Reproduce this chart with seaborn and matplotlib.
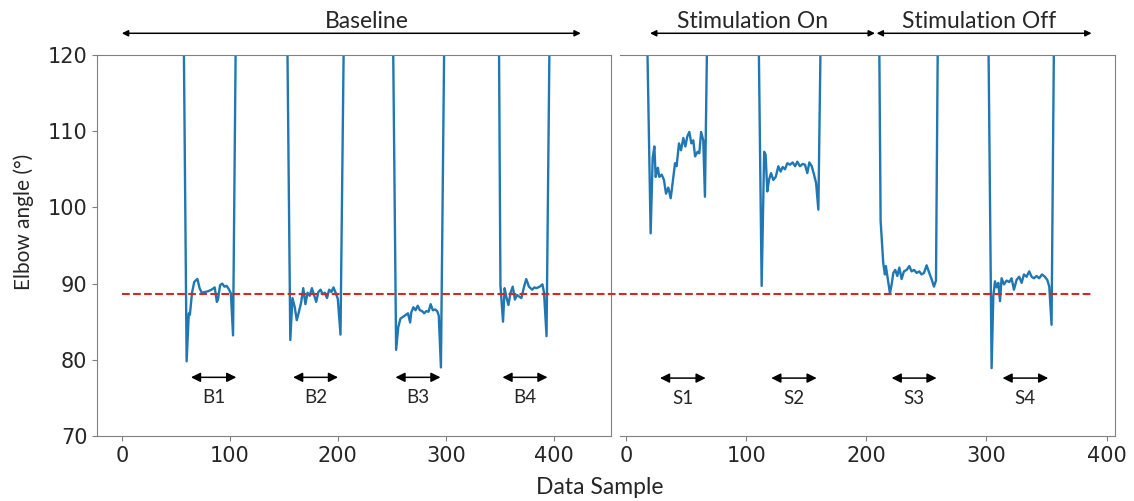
import matplotlib
matplotlib.use("Agg")
import matplotlib.pyplot as plt
from matplotlib.lines import Line2D
import seaborn as sns

# ===== Data =====
# Baseline trials B1..B4 (left panel)
baseline_x = [57, 60, 62, 63, 65, 67, 69, 70, 72, 74, 77, 80, 83, 86, 88, 89, 91, 93, 95, 97, 99, 101, 103, 106,
              153, 156, 158, 160, 162, 164, 166, 168, 170, 172, 174, 176, 178, 180, 182, 184, 186, 188, 190, 192,
              194, 196, 198, 200, 202.5, 206,
              251, 254, 256, 258, 260, 262, 264, 265, 267, 268, 270, 272, 274, 276, 278, 280, 282, 284, 286, 288,
              290, 292, 293.5, 295.5, 299,
              349, 350.6, 353, 354.5, 356, 358, 360, 362, 364, 366, 368, 370, 372.5, 374.5, 377, 380, 382, 384,
              387, 389.5, 391, 393.3, 396.5]
baseline_y = [128, 79.8, 86.1, 85.9, 88.8, 90.2, 90.5, 90.6, 89.4, 88.8, 88.9, 89.0, 89.2, 89.5, 87.6, 87.9, 89.8,
              90.0, 89.6, 89.7, 89.3, 88.7, 83.2, 130,
              126, 82.6, 88.1, 87.0, 85.2, 86.3, 87.5, 89.4, 87.3, 88.8, 88.4, 89.4, 88.5, 87.6, 88.9, 89.2, 88.6,
              88.8, 88.1, 89.2, 88.9, 89.5, 88.8, 88.0, 83.3, 128,
              125, 81.3, 84.3, 85.4, 85.6, 85.8, 86.0, 86.1, 84.9, 86.2, 86.9, 86.5, 87.1, 86.5, 86.4, 86.1, 86.4,
              86.3, 87.3, 86.5, 86.6, 86.4, 85.8, 79.0, 128,
              128, 89.8, 85.0, 89.4, 88.3, 87.2, 88.8, 89.6, 87.9, 88.5, 88.3, 88.1, 89.6, 90.6, 89.6, 89.2, 89.5,
              89.4, 89.6, 89.9, 88.8, 83.1, 128]

# Stimulation trials S1..S4 (right panel)
stim_x = [17, 20.5, 22.2, 23.6, 24.7, 25.5, 26.5, 27.7, 29.7, 31.6, 33.3, 35.2, 37.2, 38.8, 40.8, 42.1, 44.1, 45.8,
          47.7, 49.4, 51.0, 52.7, 54.4, 56, 57.5, 59.6, 61, 62.5, 64.3, 65.7, 68,
          110, 112.9, 115, 116.2, 117.6, 119, 120.7, 122.6, 124.6, 126.8, 128.7, 130.4, 132.3, 134.3, 136.5, 138.7,
          140.7, 142.6, 144.8, 147, 149, 150.9, 152.6, 154.6, 156.5, 158.2, 160.1, 162.5,
          210.5, 211.9, 214.1, 215.5, 216.3, 217.7, 219.7, 221.1, 222.5, 224.1, 225.8, 227.5, 229.4, 231.3, 233.6,
          235.8, 237.7, 239.7, 241.9, 244.1, 246, 248, 250.2, 252.4, 254.3, 256.3, 258, 259.8,
          301.3, 304.3, 305.7, 307.1, 308.5, 309.9, 311.3, 312.6, 314.6, 316.8, 319, 320.9, 322.9, 325.1, 327.3,
          329.3, 331.2, 333.4, 335.6, 337.6, 339.5, 341.7, 343.9, 346.2, 348.6, 350.6, 352.3, 354.2, 356.5]
stim_y = [128, 96.6, 106.5, 108.0, 104.0, 104.6, 105.2, 104.0, 104.3, 103.6, 101.8, 102.6, 101.2, 103.2, 105.8,
          105.4, 108.4, 107.5, 109.1, 108.0, 109.3, 109.9, 108.4, 108.8, 106.7, 107.3, 107.1, 109.9, 108.8, 101.4, 128,
          128, 89.7, 107.3, 106.9, 102.1, 103.6, 104.5, 103.6, 104.0, 105.4, 104.7, 105.3, 105.0, 105.8, 105.6,
          105.9, 105.4, 106.0, 105.4, 105.7, 105.6, 104.5, 105.9, 105.4, 104.3, 103.2, 99.7, 128,
          128, 98.3, 92.7, 91.2, 92.3, 90.8, 88.7, 89.9, 91.4, 91.8, 91.0, 92.1, 90.6, 91.6, 91.8, 92.3, 91.6,
          91.8, 91.4, 91.6, 91.2, 91.4, 92.4, 91.4, 90.6, 89.6, 90.4, 128,
          128, 78.9, 88.3, 90.3, 89.5, 90.1, 87.7, 90.7, 89.9, 90.4, 90.2, 90.7, 89.2, 90.5, 90.9, 90.1, 91.2,
          90.9, 91.6, 90.9, 90.7, 91.0, 90.7, 91.2, 90.9, 90.5, 89.6, 84.6, 128]

baseline_mean = 88.7

# trial windows (start, end) and labels
baseline_trials = ["B1", "B2", "B3", "B4"]
baseline_windows = [(64, 106), (158.6, 200.2), (253.4, 295.1), (352.5, 394.2)]
stim_trials = ["S1", "S2", "S3", "S4"]
stim_windows = [(28.3, 66.3), (120.9, 158.7), (221.1, 258.5), (313.4, 351.4)]

# phase spans above the panels: (label, arrow start, arrow end, label x)
phase_left = [("Baseline", 0, 425, 227)]
phase_right = [("Stimulation On", 20, 207.2, 105), ("Stimulation Off", 208.6, 387.5, 294)]

# ===== Style =====
sns.set_style("ticks")
plt.rcParams.update({
    "axes.edgecolor": "0.5",
    "xtick.color": "0.5",
    "ytick.color": "0.5",
    "xtick.labelcolor": "0.15",
    "ytick.labelcolor": "0.15",
    "xtick.labelsize": 15,
    "ytick.labelsize": 15,
})
plt.rcParams["font.family"] = ["DejaVu Sans"]
label_font = ["Lato", "DejaVu Sans"]
blue = "#1f77b4"

W, H = 1134, 501
fig = plt.figure(figsize=(W / 100, H / 100), dpi=100)
ax1 = fig.add_axes([97 / W, 1 - 436 / H, (611 - 97) / W, (436 - 55) / H])
ax2 = fig.add_axes([620 / W, 1 - 436 / H, (1115 - 620) / W, (436 - 55) / H])

sns.lineplot(x=baseline_x, y=baseline_y, ax=ax1, color=blue, lw=1.7, estimator=None, sort=False)
sns.lineplot(x=stim_x, y=stim_y, ax=ax2, color=blue, lw=1.7, estimator=None, sort=False)

ax1.set_xlim(-23, 453)
ax2.set_xlim(-5, 407)
for ax in (ax1, ax2):
    ax.set_ylim(70, 120)
    ax.set_xticks([0, 100, 200, 300, 400])
    ax.set_xlabel("")
    ax.set_ylabel("")
ax1.set_yticks([70, 80, 90, 100, 110, 120])
ax2.tick_params(axis="y", left=False, labelleft=False)
ax2.spines["left"].set_visible(False)


def span_arrow(ax, x0, x1, y, scale):
    ax.annotate("", xy=(x1, y), xytext=(x0, y), annotation_clip=False,
                arrowprops=dict(arrowstyle="<|-|>", color="black", lw=1.1,
                                shrinkA=0, shrinkB=0, mutation_scale=scale))


# trial windows under each trace
for name, (a, b) in zip(baseline_trials, baseline_windows):
    span_arrow(ax1, a, b, 77.7, 14)
    ax1.text((a + b) / 2, 74.3, name, ha="center", va="baseline", fontsize=13.5, family=label_font)
for name, (a, b) in zip(stim_trials, stim_windows):
    span_arrow(ax2, a, b, 77.6, 14)
    ax2.text((a + b) / 2, 74.2, name, ha="center", va="baseline", fontsize=13.5, family=label_font)

# phases above the panels
for ax, phases in ((ax1, phase_left), (ax2, phase_right)):
    for name, a, b, tx in phases:
        span_arrow(ax, a, b, 122.85, 9)
        ax.text(tx, 123.6, name, ha="center", va="baseline", fontsize=16.5,
                family=label_font, clip_on=False)

# baseline mean, drawn across both panels
p0 = ax1.transData.transform((0, baseline_mean))
p1 = ax2.transData.transform((389, baseline_mean))
inv = fig.transFigure.inverted()
f0, f1 = inv.transform(p0), inv.transform(p1)
fig.add_artist(Line2D([f0[0], f1[0]], [f0[1], f1[1]], transform=fig.transFigure,
                      color="#d62728", lw=1.5, ls="--", zorder=5))

fig.text(24 / W, 1 - 222 / H, "Elbow angle (°)", rotation=90, ha="center", va="center",
         fontsize=15, family=label_font)
fig.text(600 / W, 1 - 487 / H, "Data Sample", ha="center", va="center", fontsize=16.5, family=label_font)

fig.savefig("out.png", dpi=100)
